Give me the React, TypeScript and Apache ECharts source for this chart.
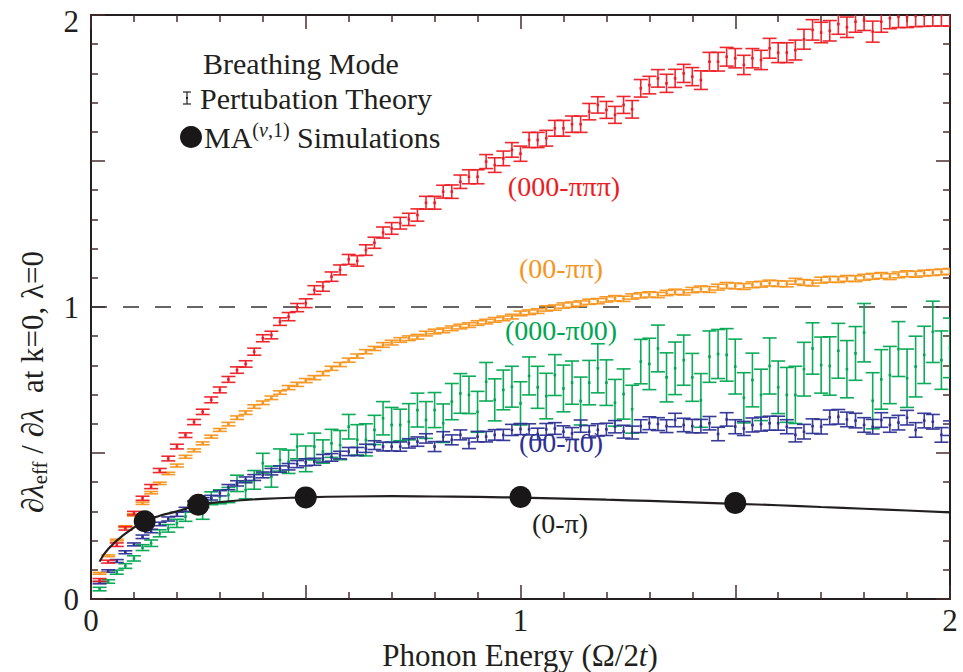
import React, { useEffect, useRef } from "react";
import * as echarts from "echarts";

// Phonon energy grid (Omega/2t)
const phononEnergy = [
  0.02, 0.04, 0.06, 0.08, 0.1, 0.12, 0.14, 0.16, 0.18, 0.2,
  0.22, 0.24, 0.26, 0.28, 0.3, 0.32, 0.34, 0.36, 0.38, 0.4,
  0.42, 0.44, 0.46, 0.48, 0.5, 0.52, 0.54, 0.56, 0.58, 0.6,
  0.62, 0.64, 0.66, 0.68, 0.7, 0.72, 0.74, 0.76, 0.78, 0.8,
  0.82, 0.84, 0.86, 0.88, 0.9, 0.92, 0.94, 0.96, 0.98, 1.0,
  1.02, 1.04, 1.06, 1.08, 1.1, 1.12, 1.14, 1.16, 1.18, 1.2,
  1.22, 1.24, 1.26, 1.28, 1.3, 1.32, 1.34, 1.36, 1.38, 1.4,
  1.42, 1.44, 1.46, 1.48, 1.5, 1.52, 1.54, 1.56, 1.58, 1.6,
  1.62, 1.64, 1.66, 1.68, 1.7, 1.72, 1.74, 1.76, 1.78, 1.8,
  1.82, 1.84, 1.86, 1.88, 1.9, 1.92, 1.94, 1.96, 1.98, 2.0,
];

// (000-πππ)
const redValues = [
  0.065, 0.128, 0.186, 0.242, 0.294, 0.345, 0.385, 0.44, 0.481, 0.522,
  0.561, 0.606, 0.641, 0.682, 0.716, 0.752, 0.784, 0.805, 0.847, 0.893,
  0.904, 0.95, 0.967, 0.998, 1.013, 1.058, 1.07, 1.104, 1.127, 1.163,
  1.158, 1.195, 1.22, 1.255, 1.269, 1.287, 1.3, 1.315, 1.357, 1.357,
  1.395, 1.395, 1.429, 1.446, 1.446, 1.498, 1.486, 1.509, 1.538, 1.525,
  1.572, 1.572, 1.578, 1.612, 1.612, 1.626, 1.626, 1.669, 1.692, 1.675,
  1.658, 1.692, 1.677, 1.749, 1.76, 1.783, 1.766, 1.783, 1.8, 1.789,
  1.777, 1.84, 1.84, 1.857, 1.852, 1.829, 1.852, 1.846, 1.886, 1.871,
  1.871, 1.88, 1.917, 1.949, 1.94, 1.946, 1.969, 1.958, 1.977, 1.983,
  1.943, 1.977, 1.989, 1.994, 1.994, 1.997, 1.998, 1.999, 2.0, 2.0,
];
const redErrors = [
  0.005, 0.005, 0.006, 0.006, 0.006, 0.007, 0.007, 0.007, 0.008, 0.008,
  0.008, 0.009, 0.009, 0.01, 0.01, 0.01, 0.011, 0.011, 0.012, 0.012,
  0.013, 0.013, 0.014, 0.014, 0.015, 0.015, 0.016, 0.016, 0.017, 0.017,
  0.018, 0.018, 0.019, 0.019, 0.02, 0.02, 0.021, 0.021, 0.022, 0.022,
  0.022, 0.023, 0.023, 0.024, 0.024, 0.024, 0.025, 0.025, 0.025, 0.026,
  0.026, 0.026, 0.027, 0.027, 0.027, 0.028, 0.028, 0.028, 0.028, 0.029,
  0.029, 0.029, 0.03, 0.03, 0.03, 0.03, 0.031, 0.031, 0.031, 0.031,
  0.032, 0.032, 0.032, 0.032, 0.033, 0.033, 0.033, 0.033, 0.034, 0.034,
  0.034, 0.034, 0.034, 0.035, 0.035, 0.035, 0.035, 0.035, 0.036, 0.036,
  0.036, 0.036, 0.036, 0.037, 0.037, 0.037, 0.037, 0.037, 0.038, 0.038,
];

// (00-ππ)
const orangeValues = [
  0.088, 0.148, 0.202, 0.248, 0.288, 0.328, 0.364, 0.396, 0.43, 0.457,
  0.487, 0.509, 0.533, 0.556, 0.579, 0.599, 0.621, 0.638, 0.659, 0.672,
  0.689, 0.707, 0.724, 0.735, 0.748, 0.758, 0.772, 0.79, 0.803, 0.818,
  0.832, 0.847, 0.858, 0.87, 0.878, 0.887, 0.893, 0.898, 0.909, 0.916,
  0.92, 0.927, 0.933, 0.938, 0.945, 0.95, 0.956, 0.961, 0.967, 0.978,
  0.982, 0.986, 0.995, 0.998, 1.005, 1.008, 1.012, 1.018, 1.02, 1.026,
  1.03, 1.028, 1.036, 1.04, 1.043, 1.041, 1.048, 1.052, 1.05, 1.058,
  1.062, 1.06, 1.068, 1.074, 1.072, 1.07, 1.076, 1.078, 1.082, 1.08,
  1.079, 1.088, 1.084, 1.082, 1.092, 1.095, 1.094, 1.098, 1.097, 1.102,
  1.105, 1.108, 1.104, 1.11, 1.114, 1.112, 1.116, 1.118, 1.12, 1.122,
];
const orangeErrors = [
  0.003, 0.003, 0.003, 0.003, 0.004, 0.004, 0.004, 0.004, 0.004, 0.005,
  0.005, 0.005, 0.005, 0.005, 0.005, 0.006, 0.006, 0.006, 0.006, 0.006,
  0.006, 0.006, 0.007, 0.007, 0.007, 0.007, 0.007, 0.007, 0.007, 0.007,
  0.007, 0.007, 0.007, 0.008, 0.008, 0.008, 0.008, 0.008, 0.008, 0.008,
  0.008, 0.008, 0.008, 0.008, 0.008, 0.008, 0.008, 0.008, 0.008, 0.008,
  0.008, 0.008, 0.009, 0.009, 0.009, 0.009, 0.009, 0.009, 0.009, 0.009,
  0.009, 0.009, 0.009, 0.009, 0.009, 0.009, 0.009, 0.009, 0.009, 0.009,
  0.01, 0.01, 0.01, 0.01, 0.01, 0.01, 0.01, 0.01, 0.01, 0.01,
  0.01, 0.01, 0.01, 0.01, 0.01, 0.01, 0.01, 0.01, 0.01, 0.01,
  0.01, 0.01, 0.01, 0.01, 0.01, 0.01, 0.01, 0.01, 0.01, 0.01,
];

// (000-π00)
const greenValues = [
  0.034, 0.06, 0.092, 0.113, 0.139, 0.176, 0.191, 0.225, 0.242, 0.259,
  0.282, 0.316, 0.293, 0.345, 0.35, 0.356, 0.396, 0.373, 0.408, 0.465,
  0.419, 0.476, 0.47, 0.522, 0.48, 0.522, 0.505, 0.533, 0.527, 0.59,
  0.545, 0.545, 0.579, 0.619, 0.596, 0.596, 0.607, 0.647, 0.613, 0.647,
  0.602, 0.676, 0.704, 0.699, 0.641, 0.744, 0.682, 0.716, 0.727, 0.67,
  0.764, 0.725, 0.695, 0.767, 0.721, 0.741, 0.678, 0.741, 0.79, 0.741,
  0.672, 0.702, 0.65, 0.813, 0.805, 0.858, 0.759, 0.79, 0.818, 0.759,
  0.68, 0.83, 0.839, 0.836, 0.796, 0.689, 0.75, 0.699, 0.798, 0.725,
  0.699, 0.699, 0.787, 0.858, 0.801, 0.798, 0.85, 0.787, 0.841, 0.912,
  0.679, 0.752, 0.767, 0.856, 0.756, 0.796, 0.836, 0.915, 0.818, 0.86,
];
const greenErrors = [
  0.006, 0.006, 0.007, 0.008, 0.009, 0.01, 0.011, 0.012, 0.013, 0.014,
  0.016, 0.018, 0.02, 0.022, 0.024, 0.026, 0.028, 0.03, 0.032, 0.034,
  0.036, 0.038, 0.04, 0.042, 0.044, 0.046, 0.04, 0.048, 0.05, 0.042,
  0.052, 0.055, 0.05, 0.057, 0.06, 0.054, 0.062, 0.058, 0.063, 0.06,
  0.066, 0.062, 0.068, 0.064, 0.07, 0.066, 0.072, 0.068, 0.07, 0.074,
  0.065, 0.072, 0.078, 0.07, 0.08, 0.074, 0.082, 0.076, 0.084, 0.078,
  0.08, 0.086, 0.082, 0.076, 0.088, 0.08, 0.084, 0.09, 0.086, 0.082,
  0.092, 0.088, 0.084, 0.09, 0.094, 0.086, 0.092, 0.088, 0.096, 0.09,
  0.094, 0.098, 0.092, 0.088, 0.096, 0.1, 0.094, 0.098, 0.092, 0.1,
  0.096, 0.102, 0.098, 0.094, 0.1, 0.104, 0.098, 0.105, 0.1, 0.102,
];

// (00-π0)
const blueValues = [
  0.056, 0.096, 0.13, 0.16, 0.187, 0.213, 0.233, 0.257, 0.274, 0.29,
  0.307, 0.328, 0.339, 0.347, 0.362, 0.383, 0.396, 0.408, 0.416, 0.425,
  0.436, 0.445, 0.453, 0.462, 0.468, 0.47, 0.482, 0.485, 0.493, 0.505,
  0.505, 0.516, 0.527, 0.522, 0.522, 0.522, 0.533, 0.539, 0.55, 0.522,
  0.556, 0.545, 0.562, 0.533, 0.556, 0.556, 0.562, 0.562, 0.579, 0.582,
  0.581, 0.565, 0.581, 0.584, 0.573, 0.567, 0.592, 0.573, 0.579, 0.581,
  0.59, 0.573, 0.57, 0.592, 0.602, 0.599, 0.592, 0.613, 0.596, 0.592,
  0.592, 0.602, 0.565, 0.615, 0.59, 0.584, 0.596, 0.599, 0.602, 0.602,
  0.59, 0.562, 0.573, 0.592, 0.59, 0.622, 0.624, 0.615, 0.611, 0.596,
  0.59, 0.613, 0.596, 0.604, 0.621, 0.579, 0.611, 0.607, 0.562, 0.585,
];
const blueErrors = [
  0.004, 0.004, 0.005, 0.005, 0.005, 0.006, 0.006, 0.006, 0.007, 0.007,
  0.007, 0.008, 0.008, 0.008, 0.009, 0.009, 0.009, 0.01, 0.01, 0.01,
  0.011, 0.011, 0.011, 0.012, 0.012, 0.012, 0.013, 0.013, 0.013, 0.014,
  0.014, 0.014, 0.015, 0.015, 0.015, 0.016, 0.016, 0.016, 0.016, 0.017,
  0.017, 0.017, 0.017, 0.018, 0.018, 0.018, 0.018, 0.019, 0.019, 0.019,
  0.019, 0.02, 0.02, 0.02, 0.02, 0.02, 0.021, 0.021, 0.021, 0.021,
  0.021, 0.022, 0.022, 0.022, 0.022, 0.022, 0.022, 0.023, 0.023, 0.023,
  0.023, 0.023, 0.023, 0.023, 0.024, 0.024, 0.024, 0.024, 0.024, 0.024,
  0.024, 0.024, 0.025, 0.025, 0.025, 0.025, 0.025, 0.025, 0.025, 0.025,
  0.025, 0.025, 0.025, 0.025, 0.025, 0.025, 0.025, 0.025, 0.025, 0.025,
];

// (0-π) perturbation curve
const blackLineX = [
  0.02, 0.04, 0.08, 0.12, 0.16, 0.2, 0.25, 0.3, 0.4, 0.5, 0.6, 0.7, 0.8,
  0.9, 1.0, 1.1, 1.2, 1.3, 1.4, 1.5, 1.6, 1.7, 1.8, 1.9, 2.0,
];
const blackLineY = [
  0.128, 0.171, 0.224, 0.262, 0.285, 0.3, 0.322, 0.332, 0.343, 0.348, 0.351,
  0.352, 0.351, 0.35, 0.347, 0.344, 0.34, 0.336, 0.331, 0.326, 0.321, 0.315,
  0.309, 0.303, 0.297,
];

// MA(v,1) simulations
const maX = [0.125, 0.25, 0.5, 1.0, 1.5];
const maY = [0.266, 0.323, 0.348, 0.349, 0.329];

const xTicksLabelled = [0, 1, 2];
const yTicksLabelled = [0, 1, 2];

const FONT = "'Liberation Serif', 'Times New Roman', 'DejaVu Serif', serif";
const INK = "#231f20";
const TICK = "#4a2c2c";
const RED = "#ed1c24";
const ORANGE = "#f7941d";
const GREEN = "#00a651";
const BLUE = "#2e3192";

function errorSeries(name: string, color: string, values: number[], errors: number[], z: number) {
  const data: number[][] = [];
  for (let i = 0; i < phononEnergy.length; i++) {
    if (values[i] === undefined) continue;
    data.push([phononEnergy[i], values[i], errors[i] ?? 0]);
  }
  return {
    type: "custom",
    name,
    z,
    clip: true,
    silent: true,
    data,
    encode: { x: 0, y: 1 },
    renderItem: (params: any, api: any) => {
      const x = api.value(0);
      const y = api.value(1);
      const e = api.value(2);
      const cs = params.coordSys;
      const top = api.coord([x, y + e]);
      const bot = api.coord([x, y - e]);
      const mid = api.coord([x, y]);
      const yMin = cs.y;
      const yMax = cs.y + cs.height;
      const xMin = cs.x;
      const xMax = cs.x + cs.width;
      const cx = mid[0];
      const half = 7;
      const cl = (v: number) => Math.max(xMin, Math.min(xMax, v));
      const t = Math.max(yMin, top[1]);
      const b = Math.min(yMax, bot[1]);
      const style = { stroke: color, lineWidth: 1.6, opacity: 0.95 };
      const children: any[] = [];
      if (b > t) {
        children.push({ type: "line", shape: { x1: cx, y1: t, x2: cx, y2: b }, style });
      }
      if (top[1] >= yMin) {
        children.push({ type: "line", shape: { x1: cl(cx - half), y1: top[1], x2: cl(cx + half), y2: top[1] }, style });
      }
      if (bot[1] <= yMax) {
        children.push({ type: "line", shape: { x1: cl(cx - half), y1: bot[1], x2: cl(cx + half), y2: bot[1] }, style });
      }
      if (mid[1] >= yMin && mid[1] <= yMax) {
        children.push({ type: "rect", shape: { x: cx - 1.3, y: mid[1] - 1.3, width: 2.6, height: 2.6 }, style: { fill: color } });
      }
      return { type: "group", children };
    },
  };
}

function axisCommon(labels: number[], showLabel: boolean, margin: number, topPad: boolean) {
  return {
    type: "value",
    min: 0,
    max: 2,
    interval: 0.5,
    splitLine: { show: false },
    axisLine: { show: true, onZero: false, lineStyle: { color: INK, width: 2 } },
    axisTick: { show: true, inside: true, length: 14, lineStyle: { color: TICK, width: 1.5 } },
    minorTick: { show: true, splitNumber: 5, length: 7, lineStyle: { color: TICK, width: 1.5 } },
    axisLabel: {
      show: showLabel,
      margin,
      fontFamily: FONT,
      fontSize: 31,
      color: INK,
      formatter: (v: number) => {
        if (labels.indexOf(v) < 0) return "";
        if (topPad && v === 2) return "{top|2}";
        return String(v);
      },
      rich: {
        top: { fontFamily: FONT, fontSize: 31, color: INK, padding: [12, 0, 0, 0] },
      },
    },
  };
}

export default function App() {
  const ref = useRef<HTMLDivElement>(null);

  useEffect(() => {
    if (!ref.current) return;
    const chart = echarts.init(ref.current, undefined, { renderer: "svg" });

    const plainText = (text: string, x: number, y: number, color: string, size: number, align: string) => ({
      type: "text",
      x,
      y,
      silent: true,
      style: {
        text,
        fill: color,
        fontFamily: FONT,
        fontSize: size,
        align,
        verticalAlign: "middle",
        textAlign: align,
        textVerticalAlign: "middle",
      },
    });

    const option: any = {
      animation: false,
      backgroundColor: "#ffffff",
      grid: { left: 91, top: 15, width: 859, height: 584, containLabel: false },
      xAxis: [
        { ...axisCommon(xTicksLabelled, true, 6, false), position: "bottom" },
        { ...axisCommon(xTicksLabelled, false, 6, false), position: "top" },
      ],
      yAxis: [
        { ...axisCommon(yTicksLabelled, true, 12, true), position: "left" },
        { ...axisCommon(yTicksLabelled, false, 12, false), position: "right" },
      ],
      series: [
        {
          type: "line",
          name: "unity",
          data: [[0, 1], [2, 1]],
          symbol: "none",
          silent: true,
          z: 1,
          lineStyle: { color: "#333333", width: 1.6, type: [16, 16] },
        },
        errorSeries("(000-π00)", GREEN, greenValues, greenErrors, 2),
        errorSeries("(00-π0)", BLUE, blueValues, blueErrors, 3),
        errorSeries("(00-ππ)", ORANGE, orangeValues, orangeErrors, 4),
        errorSeries("(000-πππ)", RED, redValues, redErrors, 5),
        {
          type: "line",
          name: "(0-π)",
          data: blackLineX.map((x, i) => [x, blackLineY[i]]),
          smooth: true,
          symbol: "none",
          silent: true,
          z: 6,
          lineStyle: { color: INK, width: 2.2 },
        },
        {
          type: "scatter",
          name: "MA(v,1) Simulations",
          data: maX.map((x, i) => [x, maY[i]]),
          symbol: "circle",
          symbolSize: 22,
          silent: true,
          z: 7,
          itemStyle: { color: "#1a1718", opacity: 1 },
        },
      ],
      graphic: [
        plainText("(000-πππ)", 564, 186, RED, 28, "center"),
        plainText("(00-ππ)", 561, 268, ORANGE, 28, "center"),
        plainText("(000-π00)", 561, 330, GREEN, 28, "center"),
        plainText("(00-π0)", 561, 442, BLUE, 28, "center"),
        plainText("(0-π)", 560, 523, INK, 28, "center"),
        // legend block
        plainText("Breathing Mode", 203, 63, INK, 30, "left"),
        { type: "line", silent: true, shape: { x1: 187, y1: 92, x2: 187, y2: 104 }, style: { stroke: INK, lineWidth: 1.2 } },
        { type: "line", silent: true, shape: { x1: 183, y1: 92, x2: 191, y2: 92 }, style: { stroke: INK, lineWidth: 1.2 } },
        { type: "line", silent: true, shape: { x1: 183, y1: 104, x2: 191, y2: 104 }, style: { stroke: INK, lineWidth: 1.2 } },
        { type: "rect", silent: true, shape: { x: 186, y: 97, width: 2, height: 2 }, style: { fill: INK } },
        plainText("Pertubation Theory", 200, 98, INK, 30, "left"),
        { type: "circle", silent: true, shape: { cx: 191, cy: 137, r: 11 }, style: { fill: "#1a1718" } },
        {
          type: "text",
          x: 204,
          y: 137,
          silent: true,
          style: {
            text: "{n|MA}{s|(}{si|v}{s|,1)}{n| Simulations}",
            fill: INK,
            align: "left",
            verticalAlign: "middle",
            textAlign: "left",
            textVerticalAlign: "middle",
            rich: {
              n: { fontFamily: FONT, fontSize: 30, fill: INK, lineHeight: 34 },
              s: { fontFamily: FONT, fontSize: 20, fill: INK, verticalAlign: "top", lineHeight: 34 },
              si: { fontFamily: FONT, fontSize: 20, fontStyle: "italic", fill: INK, verticalAlign: "top", lineHeight: 34 },
            },
          },
        },
        // x axis title
        {
          type: "text",
          x: 520,
          y: 655,
          silent: true,
          style: {
            text: "{n|Phonon Energy (Ω/2}{i|t}{n|)}",
            align: "center",
            verticalAlign: "middle",
            textAlign: "center",
            textVerticalAlign: "middle",
            rich: {
              n: { fontFamily: FONT, fontSize: 31, fill: INK },
              i: { fontFamily: FONT, fontSize: 31, fontStyle: "italic", fill: INK },
            },
          },
        },
        // y axis title
        {
          type: "text",
          x: 32,
          y: 382,
          rotation: Math.PI / 2,
          silent: true,
          style: {
            text: "{i|∂λ}{sub|eff}{n| / }{i|∂λ}{n|  at k=0, λ=0}",
            align: "center",
            verticalAlign: "middle",
            textAlign: "center",
            textVerticalAlign: "middle",
            rich: {
              n: { fontFamily: FONT, fontSize: 31, fill: INK, lineHeight: 36 },
              i: { fontFamily: FONT, fontSize: 31, fontStyle: "italic", fill: INK, lineHeight: 36 },
              sub: { fontFamily: FONT, fontSize: 21, fill: INK, verticalAlign: "bottom", lineHeight: 36 },
            },
          },
        },
      ],
    };

    chart.setOption(option);
    return () => chart.dispose();
  }, []);

  return (
    <div
      ref={ref}
      style={{ position: "fixed", left: 0, top: 0, width: 963, height: 672, background: "#fff" }}
    />
  );
}
